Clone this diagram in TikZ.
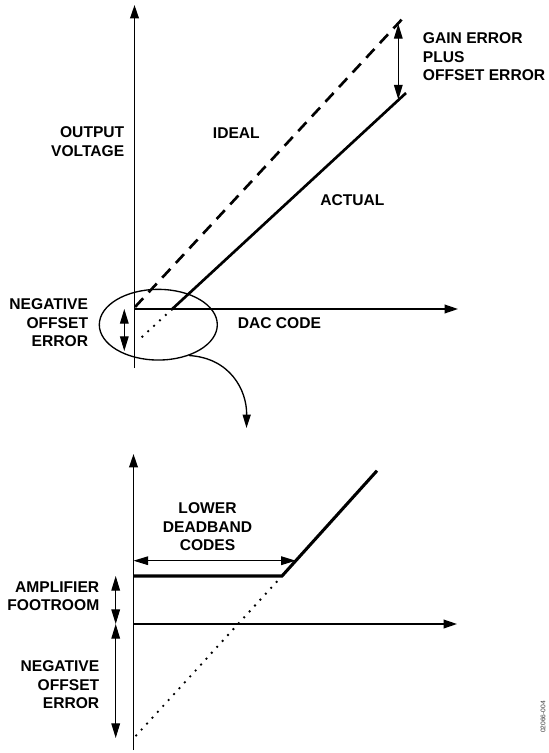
\documentclass[tikz,border=0pt]{standalone}
\usepackage{fontspec}
\setmainfont{Liberation Sans}
\usetikzlibrary{arrows.meta,shapes.geometric}
\tikzset{
  lbl/.style={font=\fontsize{11.7pt}{13.8pt}\selectfont\bfseries, inner sep=0pt},
  axis/.style={line width=1.1pt, -{Triangle[length=10pt,width=6.5pt]}},
  dimarrow/.style={line width=0.8pt, {Triangle[length=11pt,width=6.5pt]}-{Triangle[length=11pt,width=6.5pt]}},
  thickline/.style={line width=2pt},
  idealline/.style={line width=2pt, dash pattern=on 9pt off 6pt},
  dotline/.style={line width=2pt, line cap=round, dash pattern=on 0pt off 6pt},
  zoomring/.style={ellipse, draw, line width=1pt, minimum width=88.5pt, minimum height=53pt, inner sep=0pt},
  curvearrow/.style={line width=1pt, -{Triangle[length=10pt,width=6pt]}}
}
\begin{document}
\begin{tikzpicture}[x=0.75pt,y=-0.75pt]
\useasboundingbox (0,0) rectangle (549,753);
% ---------- top graph ----------
\coordinate (y1b) at (134.5,368);
\coordinate (y1t) at (134.5,5);
\coordinate (x1l) at (134.5,309);
\coordinate (x1r) at (458,309);
\coordinate (i0) at (135,307);
\coordinate (i1) at (405,16);
\coordinate (a0) at (171.7,309.5);
\coordinate (a1) at (406,93);
\coordinate (d0) at (136.5,342);
\coordinate (g0) at (398.3,24);
\coordinate (g1) at (398.3,99.5);
\coordinate (n0) at (124.3,309);
\coordinate (n1) at (124.3,351);
\draw[axis] (y1b) -- (y1t);
\draw[axis] (x1l) -- (x1r);
\draw[idealline] (i0) -- (i1);
\draw[thickline] (a0) -- (a1);
\draw[dotline] (a0) -- (d0);
\draw[dimarrow] (g0) -- (g1);
\draw[dimarrow] (n0) -- (n1);
\node[zoomring] (ring) at (158.3,324.7) {};
\coordinate (tip) at (246.5,428);
\draw[curvearrow] (ring.-45) .. controls (230,358) and (247,390) .. (tip);
\node[lbl, anchor=east, align=right] (outv) at (124.5,141.7) {OUTPUT\\VOLTAGE};
\node[lbl, anchor=west] (ideal) at (212.7,133.3) {IDEAL};
\node[lbl, anchor=west] (actual) at (320,200) {ACTUAL};
\node[lbl, anchor=west, align=left] (gain) at (422.7,56.7) {GAIN ERROR\\PLUS\\OFFSET ERROR};
\node[lbl, anchor=east, align=right] (neg1) at (88.3,322.8) {NEGATIVE\\OFFSET\\ERROR};
\node[lbl, anchor=west] (dac) at (237.5,323.5) {DAC CODE};
% ---------- bottom graph ----------
\coordinate (y2b) at (133.5,750);
\coordinate (y2t) at (133.5,454);
\coordinate (x2l) at (133.5,624);
\coordinate (x2r) at (457,624);
\coordinate (f0) at (133.5,576);
\coordinate (f1) at (282,576);
\coordinate (f2) at (377,470.7);
\coordinate (d2) at (135.7,736);
\coordinate (w0) at (133.5,560.7);
\coordinate (w1) at (295.8,560.7);
\coordinate (m0) at (115.7,576);
\coordinate (m1) at (115.7,624);
\coordinate (m2) at (115.7,738);
\draw[axis] (y2b) -- (y2t);
\draw[axis] (x2l) -- (x2r);
\draw[thickline, line width=2.3pt] (f0) -- (f1) -- (f2);
\draw[dotline] (f1) -- (d2);
\draw[dimarrow] (w0) -- (w1);
\draw[dimarrow] (m0) -- (m1);
\draw[dimarrow] (m1) -- (m2);
\node[lbl, align=center] (lower) at (207.5,527) {LOWER\\DEADBAND\\CODES};
\node[lbl, anchor=east, align=right] (foot) at (99.5,596.2) {AMPLIFIER\\FOOTROOM};
\node[lbl, anchor=east, align=right] (neg2) at (99.5,685) {NEGATIVE\\OFFSET\\ERROR};
\node[font=\fontsize{5pt}{6pt}\selectfont, text=black!80, rotate=90, inner sep=0pt] (fig) at (543,717) {02066-004};
\end{tikzpicture}
\end{document}
